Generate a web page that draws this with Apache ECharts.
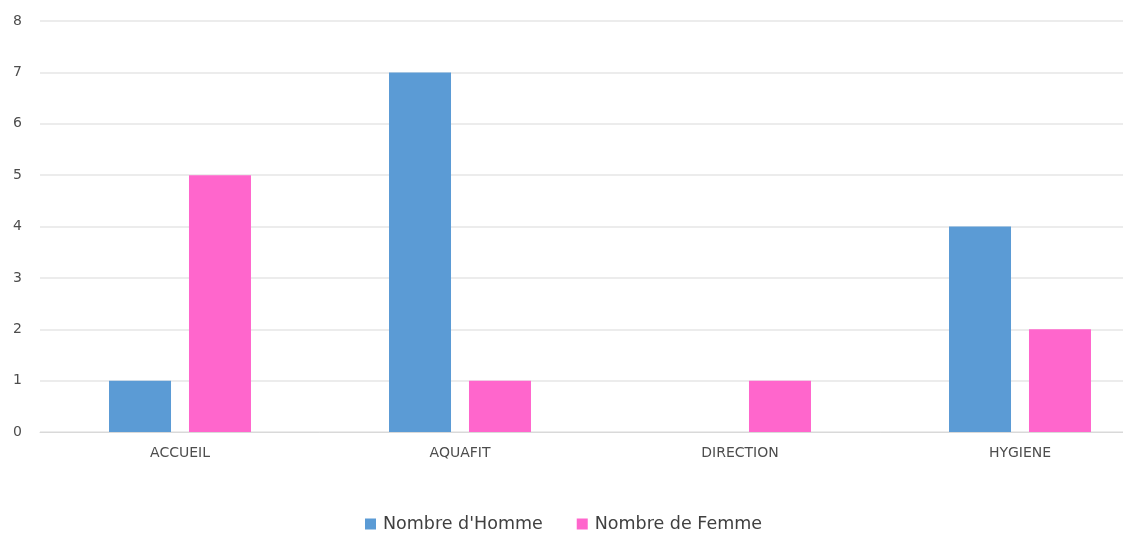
<!DOCTYPE html>
<html><head><meta charset="utf-8">
<script src="https://cdn.jsdelivr.net/npm/echarts@6/dist/echarts.min.js"></script>
<style>html,body{margin:0;padding:0;background:#fff;overflow:hidden;width:1123px;height:533px}#c{width:1160px;height:533px}</style>
</head><body><div id="c"></div>
<script>
const categories = ['ACCUEIL', 'AQUAFIT', 'DIRECTION', 'HYGIENE'];
const hommes = [1, 7, 0, 4];
const femmes = [5, 1, 1, 2];
const seriesNames = ["Nombre d'Homme", 'Nombre de Femme'];

const chart = echarts.init(document.getElementById('c'));
chart.setOption({
  animation: false,
  textStyle: { fontFamily: 'DejaVu Sans, sans-serif' },
  grid: { left: 40, right: 0, top: 21, bottom: 101 },
  legend: {
    top: 510, left: 360, itemWidth: 11, itemHeight: 11, itemGap: 34,
    icon: 'rect',
    textStyle: { fontSize: 17.5, color: '#404040', padding: [0, 0, 0, 2] },
    data: seriesNames
  },
  xAxis: {
    type: 'category', data: categories,
    axisLine: { lineStyle: { color: '#d9d9d9' } },
    axisTick: { show: false },
    axisLabel: { color: '#4d4d4d', fontSize: 14, margin: 14 }
  },
  yAxis: {
    type: 'value', min: 0, max: 8, interval: 1,
    axisLine: { show: false }, axisTick: { show: false },
    splitLine: { lineStyle: { color: '#e6e6e6', width: 1.5 } },
    axisLabel: { color: '#4d4d4d', fontSize: 14, margin: 18 }
  },
  series: [
    { name: seriesNames[0], type: 'bar', data: hommes, barWidth: 62, barGap: '29%', itemStyle: { color: '#5B9BD5' } },
    { name: seriesNames[1], type: 'bar', data: femmes, barWidth: 62, itemStyle: { color: '#FF66CC' } }
  ]
});
</script></body></html>
